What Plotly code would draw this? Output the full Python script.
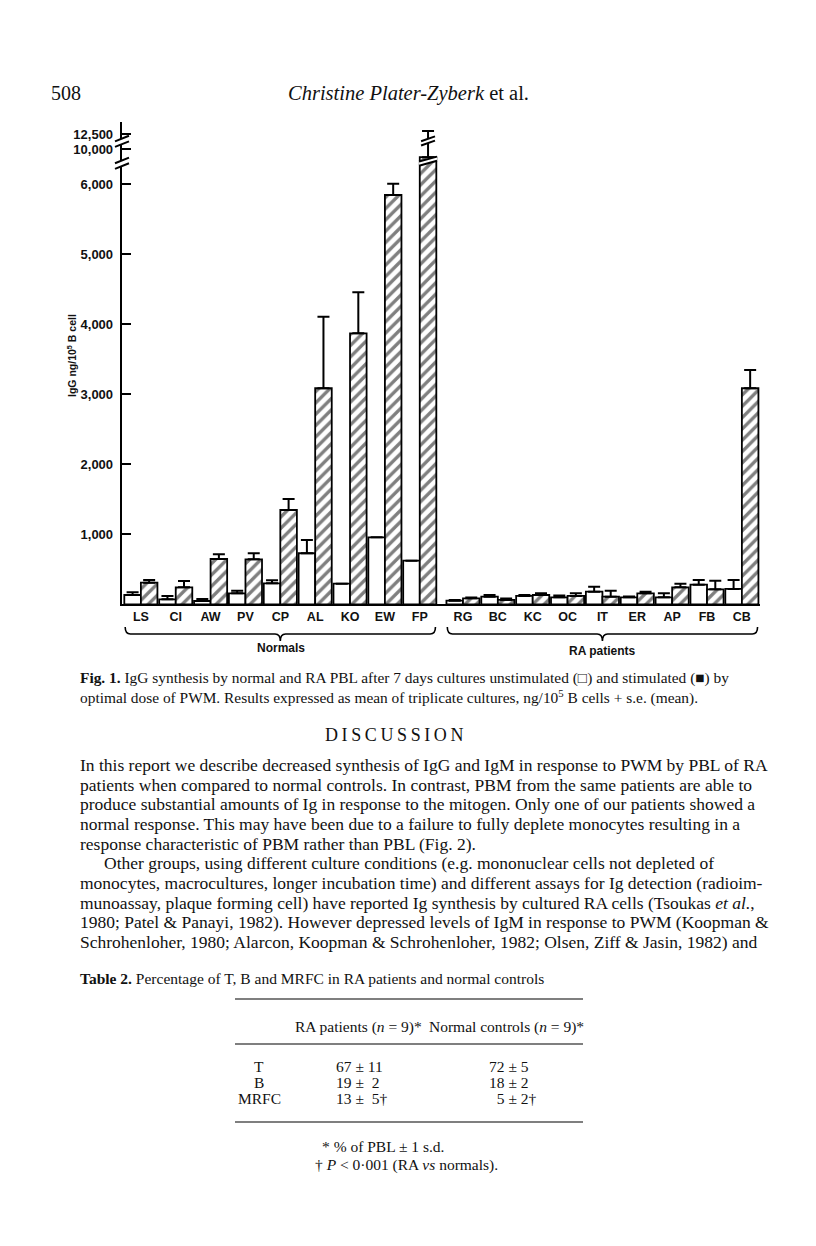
import numpy as np
import plotly.graph_objects as go

# ---- data (ng/10^5 B cells, mean and s.e.) ----
normals = ["LS", "CI", "AW", "PV", "CP", "AL", "KO", "EW", "FP"]
ra_patients = ["RG", "BC", "KC", "OC", "IT", "ER", "AP", "FB", "CB"]

unstim_normal = [133, 71, 47, 157, 300, 729, 295, 957, 623]
unstim_normal_se = [38, 48, 29, 38, 43, 190, 0, 0, 0]
stim_normal = [309, 243, 647, 643, 1347, 3086, 3871, 5847, 9100]
stim_normal_se = [38, 90, 67, 86, 157, 1023, 586, 224, 3900]

unstim_ra = [52, 109, 119, 100, 181, 100, 100, 281, 219]
unstim_ra_se = [8, 24, 14, 24, 71, 10, 57, 66, 128]
stim_ra = [86, 62, 133, 119, 109, 157, 243, 214, 3086]
stim_ra_se = [11, 22, 24, 38, 86, 24, 52, 124, 261]

ytick_vals = [1000, 2000, 3000, 4000, 5000, 6000, 10000, 12500]
ytick_text = ["1,000", "2,000", "3,000", "4,000", "5,000", "6,000", "10,000", "12,500"]

table_rows = ["T", "B", "MRFC"]
table_ra = ["67 ± 11", "19 ±  2", "13 ±  5†"]
table_normal = ["72 ± 5", "18 ± 2", "  5 ± 2†"]

# broken y axis: linear up to 6,000, compressed above
def tr(v):
    return np.interp(v, [0, 6000, 10000, 12500, 15000], [0, 6000, 6500, 6719, 6938])

# page body has an 8px margin, so the figure is a bit smaller than the window
OFF = 8
W, H = 816 - OFF, 1246 - OFF
def px(x):
    return (x - OFF) / W
def py(y):
    return 1 - (y - OFF) / H

group_gap = 1.24
x_norm = list(range(len(normals)))
x_ra = [len(normals) - 1 + group_gap + i for i in range(len(ra_patients))]
xs = x_norm + x_ra
labels = normals + ra_patients

unstim = unstim_normal + unstim_ra
unstim_se = unstim_normal_se + unstim_ra_se
stim = stim_normal + stim_ra
stim_se = stim_normal_se + stim_ra_se

def bar_y(vals):
    return [float(tr(v)) for v in vals]

def bar_err(vals, ses):
    return [float(tr(v + s) - tr(v)) for v, s in zip(vals, ses)]

bargap = 0.05
bw = (1 - bargap) / 2

fig = go.Figure()
fig.add_trace(go.Bar(
    x=xs, y=bar_y(unstim), name="unstimulated",
    marker=dict(color="white", line=dict(color="black", width=1.8)),
    error_y=dict(type="data", symmetric=False, array=bar_err(unstim, unstim_se),
                 arrayminus=[0] * len(xs), color="black", thickness=2, width=6),
))
fig.add_trace(go.Bar(
    x=xs, y=bar_y(stim), name="stimulated",
    marker=dict(color="white", line=dict(color="black", width=1.8),
                pattern=dict(shape="/", fgcolor="black", bgcolor="white",
                             size=8, solidity=0.42)),
    error_y=dict(type="data", symmetric=False, array=bar_err(stim, stim_se),
                 arrayminus=[0] * len(xs), color="black", thickness=2, width=6),
))

shapes = []
# axis break marks
for bv in [8400, 11300]:
    yb = float(tr(bv))
    shapes.append(dict(type="path", xref="paper", yref="y",
                       path=f"M{px(116)},{yb - 80} L{px(128)},{yb} L{px(128)},{yb + 80} "
                            f"L{px(116)},{yb} Z",
                       fillcolor="white", line=dict(width=0)))
    for dy in (-40, 40):
        shapes.append(dict(type="line", xref="paper", yref="y",
                           x0=px(115), x1=px(129), y0=yb + dy - 40, y1=yb + dy + 40,
                           line=dict(color="black", width=2)))
# break marks across the FP stimulated bar and its error bar
fp_x = x_norm[-1] + bw / 2
for bv, half in [(8600, bw / 2 + 0.02), (11300, 0.2)]:
    yb = float(tr(bv))
    shapes.append(dict(type="path", xref="x", yref="y", layer="above",
                       path=f"M{fp_x - half},{yb - 60} L{fp_x + half},{yb + 10} "
                            f"L{fp_x + half},{yb + 70} L{fp_x - half},{yb} Z",
                       fillcolor="white", line=dict(width=0)))
    for d in (-60, 0):
        shapes.append(dict(type="line", xref="x", yref="y", layer="above",
                           x0=fp_x - half, x1=fp_x + half, y0=yb + d, y1=yb + d + 70,
                           line=dict(color="black", width=2)))

# group braces
def brace(x0, x1, ytop, ymid, ybot):
    xc = (x0 + x1) / 2
    d = 0.15
    return (f"M{x0},{py(ytop)} Q{x0},{py(ymid)} {x0 + d},{py(ymid)} "
            f"L{xc - d},{py(ymid)} Q{xc},{py(ymid)} {xc},{py(ybot)} "
            f"Q{xc},{py(ymid)} {xc + d},{py(ymid)} L{x1 - d},{py(ymid)} "
            f"Q{x1},{py(ymid)} {x1},{py(ytop)}")

for g in (x_norm, x_ra):
    shapes.append(dict(type="path", xref="x", yref="paper",
                       path=brace(g[0] - 0.45, g[-1] + 0.45, 627, 634, 641),
                       line=dict(color="black", width=1.6)))

# table rules
for yl in (999, 1044, 1122):
    shapes.append(dict(type="line", xref="paper", yref="paper",
                       x0=px(235), x1=px(583), y0=py(yl), y1=py(yl),
                       line=dict(color="black", width=1.2)))

serif = "Liberation Serif"
ann = []
def text(x, y, s, size, anchor="left", family=serif, color="#111"):
    ann.append(dict(x=px(x), y=py(y), xref="paper", yref="paper", text=s,
                    showarrow=False, xanchor=anchor, yanchor="middle",
                    font=dict(family=family, size=size, color=color)))

text(49, 93, "508", 20)
text(408, 93, "<i>Christine Plater-Zyberk</i> et al.", 20.5, "center")

# axis title and group labels
ann.append(dict(x=px(71), y=py(356), xref="paper", yref="paper",
                xanchor="center", yanchor="middle",
                text="<b>IgG ng/10<sup>5</sup> B cell</b>", textangle=-90,
                showarrow=False, font=dict(family="Liberation Sans", size=10.5, color="#111")))
text(281, 648, "<b>Normals</b>", 12, "center", "Liberation Sans")
text(602, 651, "<b>RA patients</b>", 12, "center", "Liberation Sans")

# caption
text(78, 678, "<b>Fig. 1.</b> IgG synthesis by normal and RA PBL after 7 days cultures "
     "unstimulated (□) and stimulated (■) by", 15.4)
text(78, 697, "optimal dose of PWM. Results expressed as mean of triplicate cultures, "
     "ng/10<sup>5</sup> B cells + s.e. (mean).", 15.4)

text(394, 735, "\u2009".join("DISCUSSION"), 18, "center")

body = [
    "In this report we describe decreased synthesis of IgG and IgM in response to PWM by PBL of RA",
    "patients when compared to normal controls. In contrast, PBM from the same patients are able to",
    "produce substantial amounts of Ig in response to the mitogen. Only one of our patients showed a",
    "normal response. This may have been due to a failure to fully deplete monocytes resulting in a",
    "response characteristic of PBM rather than PBL (Fig. 2).",
    "Other groups, using different culture conditions (e.g. mononuclear cells not depleted of",
    "monocytes, macrocultures, longer incubation time) and different assays for Ig detection (radioim-",
    "munoassay, plaque forming cell) have reported Ig synthesis by cultured RA cells (Tsoukas <i>et al.</i>,",
    "1980; Patel & Panayi, 1982). However depressed levels of IgM in response to PWM (Koopman &",
    "Schrohenloher, 1980; Alarcon, Koopman & Schrohenloher, 1982; Olsen, Ziff & Jasin, 1982) and",
]
body_y = [765, 785, 804, 824, 844, 863, 883, 903, 922, 942]
for i, (line, yy) in enumerate(zip(body, body_y)):
    text(102 if i == 5 else 78, yy, line, 17.5)

text(78, 978, "<b>Table 2.</b> Percentage of T, B and MRFC in RA patients and normal controls", 15.5)
text(293, 1027, "RA patients (<i>n</i> = 9)*", 15.5)
text(427, 1027, "Normal controls (<i>n</i> = 9)*", 15.5)
for lab, a, b, yy in zip(table_rows, table_ra, table_normal, [1066, 1082, 1098]):
    text(259, yy, lab, 15.5, "center")
    text(334, yy, a.replace("  ", "\u2007"), 15.5)
    text(487, yy, b.replace("  ", "\u2007"), 15.5)
text(320, 1146, "* % of PBL ± 1 s.d.", 15.5)
text(313, 1165, "† <i>P</i> < 0·001 (RA <i>vs</i> normals).", 15.5)

fig.update_layout(
    width=W, height=H,
    margin=dict(l=0, r=0, t=0, b=0),
    paper_bgcolor="white", plot_bgcolor="white",
    barmode="group", bargap=bargap, bargroupgap=0,
    showlegend=False,
    shapes=shapes, annotations=ann,
    xaxis=dict(domain=[px(121.7), px(760)], range=[-0.55, x_ra[-1] + 0.52],
               tickvals=xs, ticktext=[f"<b>{s}</b>" for s in labels],
               tickfont=dict(family="Liberation Sans", size=12.5, color="#111"),
               ticks="", showline=True, linecolor="black", linewidth=2,
               showgrid=False, zeroline=False),
    yaxis=dict(domain=[py(604.3), py(121.7)], range=[0, 6894],
               tickvals=[float(tr(v)) for v in ytick_vals],
               ticktext=[f"<b>{t}</b>" for t in ytick_text],
               tickfont=dict(family="Liberation Sans", size=13, color="#111"),
               ticks="inside", ticklen=9, tickwidth=2, tickcolor="black",
               ticklabelstandoff=4,
               showline=True, linecolor="black", linewidth=2,
               showgrid=False, zeroline=False),
)

fig.write_html("out.html")
